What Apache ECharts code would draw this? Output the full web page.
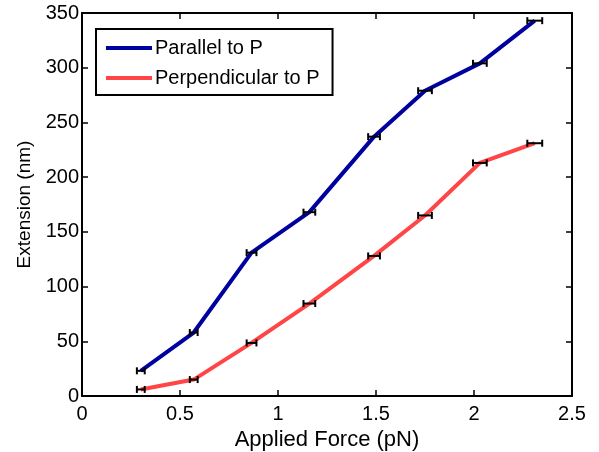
<!DOCTYPE html>
<html>
<head>
<meta charset="utf-8">
<script src="https://cdn.jsdelivr.net/npm/echarts@6/dist/echarts.min.js"></script>
<style>
  html, body { margin: 0; padding: 0; background: #fff; }
  #chart { width: 599px; height: 452px; }
</style>
</head>
<body>
<div id="chart"></div>
<script>
const force = [0.30, 0.57, 0.865, 1.16, 1.49, 1.75, 2.03, 2.31]
const forceErr = [0.02, 0.02, 0.025, 0.03, 0.03, 0.035, 0.035, 0.038]
const parallel = [23, 58, 131, 168, 237, 279, 304, 343]
const perpendicular = [6, 15, 48.5, 84.5, 128, 165, 213, 231]
const xTicks = [0, 0.5, 1, 1.5, 2, 2.5]
const yTicks = [0, 50, 100, 150, 200, 250, 300, 350]

const font = 'Liberation Sans, Arial, sans-serif'
const blue = '#00009e'
const red = '#ff4545'

function pairs(ys) {
  return force.map((x, i) => [x, ys[i]])
}

function errorData(ys) {
  return force.map((x, i) => [x - forceErr[i], x + forceErr[i], ys[i]])
}

// horizontal error bar with caps
function renderErr(params, api) {
  const lo = api.coord([api.value(0), api.value(2)])
  const hi = api.coord([api.value(1), api.value(2)])
  const cap = 3.5
  const style = { stroke: '#000', lineWidth: 2 }
  return {
    type: 'group',
    children: [
      { type: 'line', shape: { x1: lo[0], y1: lo[1], x2: hi[0], y2: hi[1] }, style },
      { type: 'line', shape: { x1: lo[0], y1: lo[1] - cap, x2: lo[0], y2: lo[1] + cap }, style },
      { type: 'line', shape: { x1: hi[0], y1: hi[1] - cap, x2: hi[0], y2: hi[1] + cap }, style }
    ]
  }
}

const chart = echarts.init(document.getElementById('chart'))

const axisLine = { show: true, onZero: false, lineStyle: { color: '#000', width: 2 } }
const axisTick = { show: true, inside: true, length: 6, lineStyle: { color: '#000', width: 1.5 } }
const labelStyle = { fontFamily: font, fontSize: 20, color: '#000' }

chart.setOption({
  animation: false,
  backgroundColor: '#fff',
  grid: { left: 82, right: 27, top: 13, bottom: 56, outerBoundsMode: 'none' },
  legend: {
    orient: 'vertical',
    left: 96,
    top: 29,
    padding: [9, 13, 7, 10],
    itemGap: 10,
    itemWidth: 46,
    itemHeight: 4,
    icon: 'rect',
    borderColor: '#000',
    borderWidth: 2,
    backgroundColor: '#fff',
    data: ['Parallel to P', 'Perpendicular to P'],
    textStyle: { ...labelStyle, padding: [0, 0, 0, -2] }
  },
  xAxis: [
    {
      type: 'value',
      min: 0, max: 2.5, interval: 0.5,
      axisLine, axisTick,
      splitLine: { show: false },
      name: 'Applied Force (pN)',
      nameLocation: 'middle',
      nameGap: 29,
      nameTextStyle: { ...labelStyle, fontSize: 22 },
      axisLabel: { ...labelStyle, margin: 8,
        formatter: (v) => xTicks.includes(v) ? String(v) : '' }
    },
    {
      type: 'value',
      position: 'top',
      min: 0, max: 2.5, interval: 0.5,
      axisLine, axisTick,
      splitLine: { show: false },
      axisLabel: { show: false }
    }
  ],
  yAxis: [
    {
      type: 'value',
      min: 0, max: 350, interval: 50,
      axisLine, axisTick,
      splitLine: { show: false },
      name: 'Extension (nm)',
      nameLocation: 'middle',
      nameGap: 44,
      nameTextStyle: { ...labelStyle, fontSize: 19 },
      axisLabel: { ...labelStyle, margin: 3,
        formatter: (v) => yTicks.includes(v) ? String(v) : '' }
    },
    {
      type: 'value',
      position: 'right',
      min: 0, max: 350, interval: 50,
      axisLine, axisTick,
      splitLine: { show: false },
      axisLabel: { show: false }
    }
  ],
  series: [
    {
      name: 'Parallel to P',
      type: 'line',
      data: pairs(parallel),
      showSymbol: false,
      itemStyle: { color: blue },
      lineStyle: { color: blue, width: 4 },
      z: 2
    },
    {
      name: 'Perpendicular to P',
      type: 'line',
      data: pairs(perpendicular),
      showSymbol: false,
      itemStyle: { color: red },
      lineStyle: { color: red, width: 4 },
      z: 2
    },
    {
      type: 'custom',
      renderItem: renderErr,
      data: errorData(parallel),
      encode: { x: [0, 1], y: 2 },
      z: 3
    },
    {
      type: 'custom',
      renderItem: renderErr,
      data: errorData(perpendicular),
      encode: { x: [0, 1], y: 2 },
      z: 3
    }
  ]
})
</script>
</body>
</html>
